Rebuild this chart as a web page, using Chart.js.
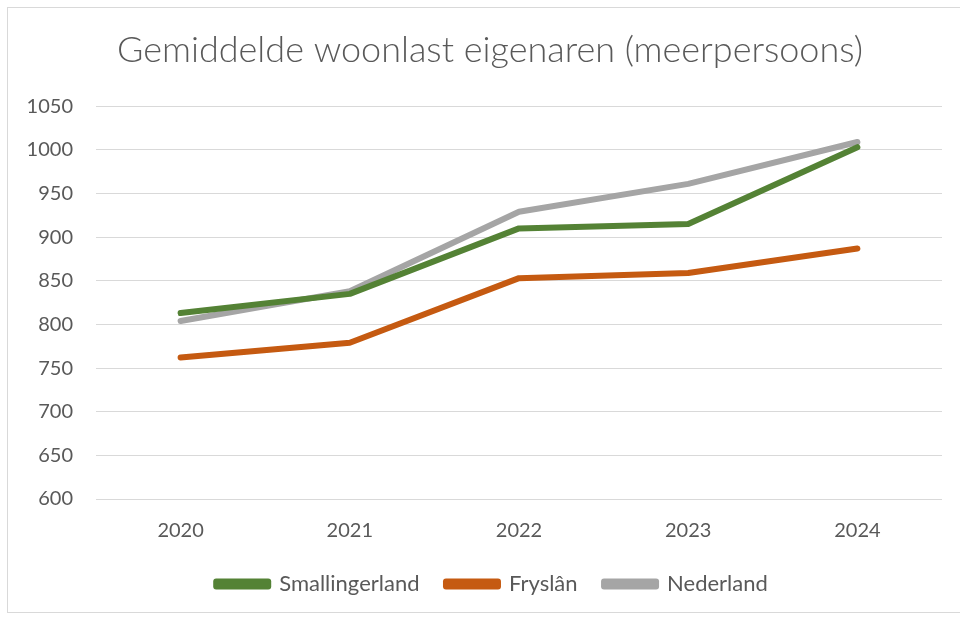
<!DOCTYPE html>
<html lang="nl">
  <head>
    <meta charset="UTF-8" />
    <title>Gemiddelde woonlast eigenaren</title>
    <script src="https://cdn.jsdelivr.net/npm/chart.js@4/dist/chart.umd.min.js"></script>
    <style>
      html, body { margin: 0; padding: 0; background: #fff; }
      .wrap { position: relative; width: 960px; height: 617px; }
      .frame {
        position: absolute; left: 7px; top: 7px; width: 960px; height: 604px;
        border-left: 1px solid #d9d9d9; border-top: 1px solid #d9d9d9; border-bottom: 1px solid #d9d9d9;
        pointer-events: none;
      }
      canvas { position: absolute; left: 0; top: 0; }
    </style>
  </head>
  <body>
    <div class="wrap">
      <canvas id="woonlast" width="960" height="617"></canvas>
      <div class="frame"></div>
    </div>
    <script>
      var years = ["2020", "2021", "2022", "2023", "2024"];
      var smallingerland = [813, 835, 910, 915, 1003];
      var fryslan = [762, 779, 853, 859, 887];
      var nederland = [804, 838, 929, 961, 1009];

      var fontFam = "Lato, 'Open Sans', sans-serif";
      var textCol = "#595959";

      function line(label, values, color) {
        return {
          label: label,
          data: values,
          borderColor: color,
          backgroundColor: color,
          borderWidth: 6,
          borderCapStyle: "round",
          borderJoinStyle: "round",
          pointRadius: 0,
          tension: 0,
        };
      }

      // Excel centres title and legend a bit right of the canvas centre
      var nudge = {
        id: "nudge",
        afterLayout: function (chart) {
          chart.titleBlock.left += 19;
          chart.titleBlock.right += 19;
          chart.legend.left += 21;
          chart.legend.right += 21;
        },
      };

      var ctx = document.getElementById("woonlast").getContext("2d");
      new Chart(ctx, {
        type: "line",
        data: {
          labels: years,
          datasets: [
            line("Smallingerland", smallingerland, "#548235"),
            line("Fryslân", fryslan, "#c55a11"),
            line("Nederland", nederland, "#a5a5a5"),
          ],
        },
        plugins: [nudge],
        options: {
          responsive: false,
          animation: false,
          layout: { padding: { left: 0, right: 18, top: 0, bottom: 12 } },
          plugins: {
            title: {
              display: true,
              text: "Gemiddelde woonlast eigenaren (meerpersoons)",
              color: textCol,
              font: { family: fontFam, size: 36, weight: "300" },
              padding: { top: 29, bottom: 34 },
            },
            legend: {
              position: "bottom",
              labels: {
                color: textCol,
                font: { family: fontFam, size: 22 },
                boxWidth: 52,
                boxHeight: 5,
                padding: 10,
                generateLabels: function (chart) {
                  var items = Chart.defaults.plugins.legend.labels.generateLabels(chart);
                  items.forEach(function (it, i) {
                    if (i < items.length - 1) it.text = it.text + "\u2003";
                  });
                  return items;
                },
              },
            },
            tooltip: { enabled: false },
          },
          scales: {
            x: {
              offset: true,
              grid: { display: false, drawTicks: false },
              border: { display: false },
              ticks: {
                color: textCol,
                font: { family: fontFam, size: 20 },
                padding: 20,
              },
            },
            y: {
              min: 600,
              max: 1050,
              grid: { color: "#d9d9d9", lineWidth: 1, drawTicks: false },
              border: { display: false },
              ticks: {
                stepSize: 50,
                color: textCol,
                font: { family: fontFam, size: 20 },
                padding: 23,
                callback: function (v) { return String(v); },
              },
              afterFit: function (scale) {
                scale.width = 96;
              },
            },
          },
        },
      });
    </script>
  </body>
</html>
